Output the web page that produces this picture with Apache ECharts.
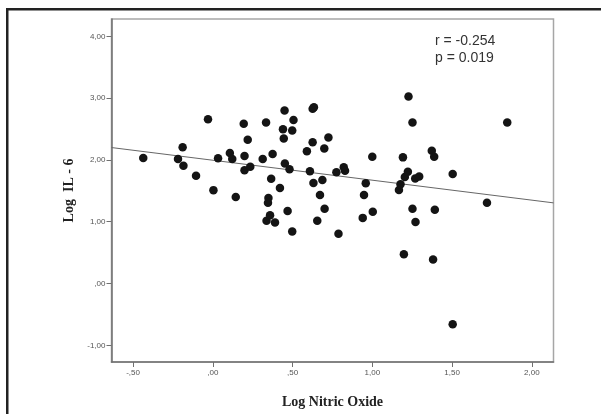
<!DOCTYPE html>
<html><head><meta charset="utf-8">
<script src="https://cdn.jsdelivr.net/npm/echarts@6/dist/echarts.min.js"></script>
<style>html,body{margin:0;padding:0;background:#fff}#c{width:601px;height:414px}</style>
</head><body><div id="c"></div>
<script>
// Scatter points: Log Nitric Oxide (x) vs Log IL-6 (y)
var xValues = [-0.436,-0.218,-0.189,-0.184,-0.105,-0.030,0.004,0.033,0.107,0.122,0.144,0.194,0.199,0.199,0.219,0.235,0.313,0.334,0.375,0.366,0.349,0.346,0.337,0.359,0.390,0.421,0.450,0.440,0.445,0.452,0.481,0.469,0.498,0.506,0.498,0.590,0.609,0.626,0.634,0.626,0.631,0.655,0.672,0.687,0.699,0.701,0.725,0.775,0.788,0.821,0.829,0.940,0.948,0.959,1.000,1.003,1.167,1.177,1.192,1.198,1.204,1.223,1.227,1.252,1.252,1.269,1.271,1.294,1.373,1.388,1.381,1.392,1.504,1.504,1.719,1.846];
var yValues = [2.03,2.016,2.205,1.905,1.742,2.658,1.511,2.026,2.111,2.016,1.400,2.584,2.063,1.832,2.326,1.889,2.016,2.605,2.095,1.695,1.384,1.305,1.016,1.105,0.989,1.547,2.80,2.495,2.347,1.942,1.847,1.174,0.842,2.647,2.474,2.142,1.816,2.826,2.853,2.284,1.626,1.016,1.432,1.674,2.184,1.211,2.363,1.80,0.804,1.883,1.826,1.062,1.431,1.621,2.052,1.163,1.512,1.605,2.041,0.472,1.725,1.810,3.027,2.605,1.210,1.700,0.994,1.731,2.147,2.052,0.388,1.194,1.773,-0.66,1.305,2.605];
// Fit line endpoints
var fitX = [-0.635, 2.136];
var fitY = [2.20, 1.305];
// Ticks
var xTicks = [-0.5, 0, 0.5, 1, 1.5, 2];
var xTickLabels = ['-,50', ',00', ',50', '1,00', '1,50', '2,00'];
var yTicks = [-1, 0, 1, 2, 3, 4];
var yTickLabels = ['-1,00', ',00', '1,00', '2,00', '3,00', '4,00'];
var statsText = ['r = -0.254', 'p = 0.019'];

var pts = xValues.map(function(x,i){return [x, yValues[i]];});
var fit = fitX.map(function(x,i){return [x, fitY[i]];});
function lab(ticks, labels){ return function(v){ for (var i=0;i<ticks.length;i++){ if (Math.abs(ticks[i]-v)<1e-6) return labels[i]; } return ''; }; }

var chart = echarts.init(document.getElementById('c'), null, {renderer:'canvas'});
chart.setOption({
  animation:false,
  backgroundColor:'#fff',
  grid:{left:111.5, top:19, right:47.5, bottom:43.5, show:true, borderColor:'#a6a6a6', borderWidth:1.5},
  xAxis:{type:'value', min:-0.635, max:2.136,
    name:'Log Nitric Oxide', nameLocation:'middle', nameGap:33,
    nameTextStyle:{fontFamily:'Liberation Serif', fontWeight:'bold', fontSize:14, color:'#222'},
    axisLine:{show:true, onZero:false, lineStyle:{color:'#707070', width:1.5}},
    axisTick:{show:true, length:5, customValues:xTicks, lineStyle:{color:'#707070'}},
    axisLabel:{customValues:xTicks, formatter:lab(xTicks,xTickLabels), fontSize:8, color:'#555', fontFamily:'Liberation Sans', margin:7},
    splitLine:{show:false}},
  yAxis:{type:'value', min:-1.27, max:4.28,
    name:'Log  IL - 6', nameLocation:'middle', nameGap:32, nameRotate:90,
    nameTextStyle:{fontFamily:'Liberation Serif', fontWeight:'bold', fontSize:14, color:'#222'},
    axisLine:{show:true, onZero:false, lineStyle:{color:'#707070', width:1.5}},
    axisTick:{show:true, length:5, customValues:yTicks, lineStyle:{color:'#707070'}},
    axisLabel:{customValues:yTicks, formatter:lab(yTicks,yTickLabels), fontSize:8, color:'#555', fontFamily:'Liberation Sans', margin:6},
    splitLine:{show:false}},
  series:[
    {type:'line', data:fit, symbol:'none', lineStyle:{color:'#666', width:1}, z:2, silent:true},
    {type:'scatter', data:pts, symbolSize:8.5, itemStyle:{color:'#141414', opacity:1}, z:3}
  ],
  graphic:[
    {type:'rect', shape:{x:6, y:8, width:595, height:2.5}, style:{fill:'#222'}},
    {type:'rect', shape:{x:6, y:8, width:2.5, height:406}, style:{fill:'#222'}},
    {type:'text', left:435, top:34, style:{text:statsText[0], fontSize:14, fontFamily:'Liberation Sans Narrow, Liberation Sans', fill:'#333'}},
    {type:'text', left:435, top:51, style:{text:statsText[1], fontSize:14, fontFamily:'Liberation Sans Narrow, Liberation Sans', fill:'#333'}}
  ]
});
</script></body></html>
